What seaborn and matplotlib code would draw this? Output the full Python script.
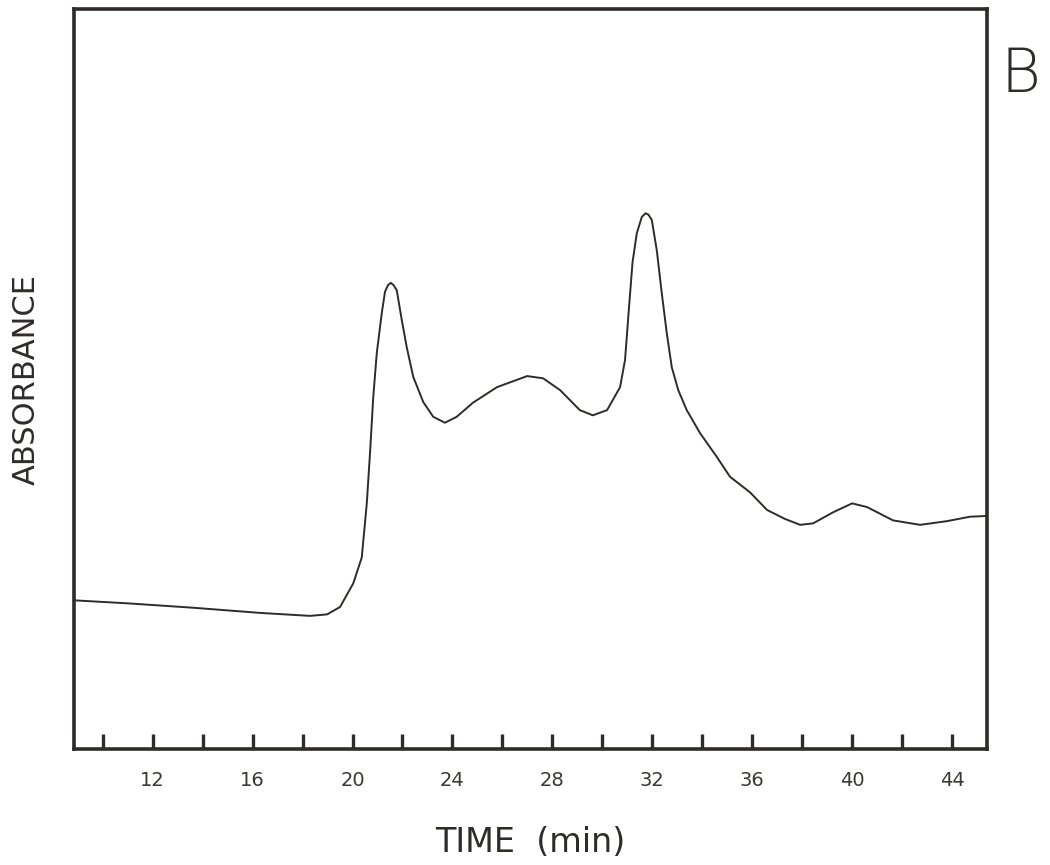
import pandas as pd
import seaborn as sns
import matplotlib.pyplot as plt

# elution profile (time in min, absorbance in arbitrary units)
time_min = [8.85, 10.97, 13.62, 16.30, 18.30, 18.98, 19.50, 20.03, 20.37, 20.57,
            20.70, 20.83, 20.97, 21.17, 21.30, 21.42, 21.53, 21.64, 21.77, 21.97,
            22.17, 22.43, 22.83, 23.23, 23.70, 24.17, 24.82, 25.78, 26.99, 27.63,
            28.31, 29.10, 29.62, 30.19, 30.71, 30.91, 31.05, 31.21, 31.38, 31.58,
            31.73, 31.85, 31.98, 32.18, 32.38, 32.58, 32.78, 33.04, 33.38, 33.91,
            34.58, 35.11, 35.91, 36.60, 37.31, 37.92, 38.44, 39.24, 40.00, 40.60,
            41.64, 42.72, 43.80, 44.72, 45.40]
absorbance = [0.201, 0.197, 0.191, 0.184, 0.180, 0.182, 0.192, 0.224, 0.259, 0.332,
              0.400, 0.476, 0.535, 0.589, 0.618, 0.627, 0.630, 0.627, 0.620, 0.580,
              0.543, 0.503, 0.469, 0.449, 0.441, 0.449, 0.468, 0.489, 0.504, 0.501,
              0.485, 0.458, 0.451, 0.458, 0.489, 0.526, 0.589, 0.658, 0.697, 0.719,
              0.724, 0.722, 0.715, 0.674, 0.616, 0.562, 0.516, 0.485, 0.458, 0.427,
              0.395, 0.368, 0.347, 0.323, 0.311, 0.303, 0.305, 0.320, 0.332, 0.327,
              0.309, 0.303, 0.308, 0.314, 0.315]
minor_ticks = list(range(10, 46, 2))
tick_labels = [12, 16, 20, 24, 28, 32, 36, 40, 44]

ink = "#2e2b28"

sns.set_style("white")
plt.rcParams['font.family'] = ['DejaVu Sans']

data = pd.DataFrame({"time": time_min, "absorbance": absorbance})

fig = plt.figure(figsize=(10.5, 8.65), dpi=100)
ax = fig.add_axes([0.0705, 0.134, 0.8695, 0.8556])

sns.lineplot(data=data, x="time", y="absorbance", color=ink, linewidth=1.4, ax=ax)

ax.set_xlim(8.85, 45.4)
ax.set_ylim(0, 1)

for side in ax.spines.values():
    side.set_color(ink)
    side.set_linewidth(2.6)

ax.set_xticks(minor_ticks)
ax.set_xticklabels([str(t) if t in tick_labels else "" for t in minor_ticks])
ax.tick_params(axis="x", direction="in", length=11, width=2.4, color=ink,
               labelsize=14, labelcolor="#3a3734", pad=16, bottom=True)
ax.set_yticks([])

ax.set_xlabel("TIME  (min)", fontsize=24, color=ink, labelpad=26)
ax.set_ylabel("ABSORBANCE", fontsize=22, color=ink, labelpad=24)

fig.text(0.972, 0.913, "B", fontsize=44, color=ink, ha="center", va="center",
         fontweight="light")

fig.savefig("out.png", dpi=100)
